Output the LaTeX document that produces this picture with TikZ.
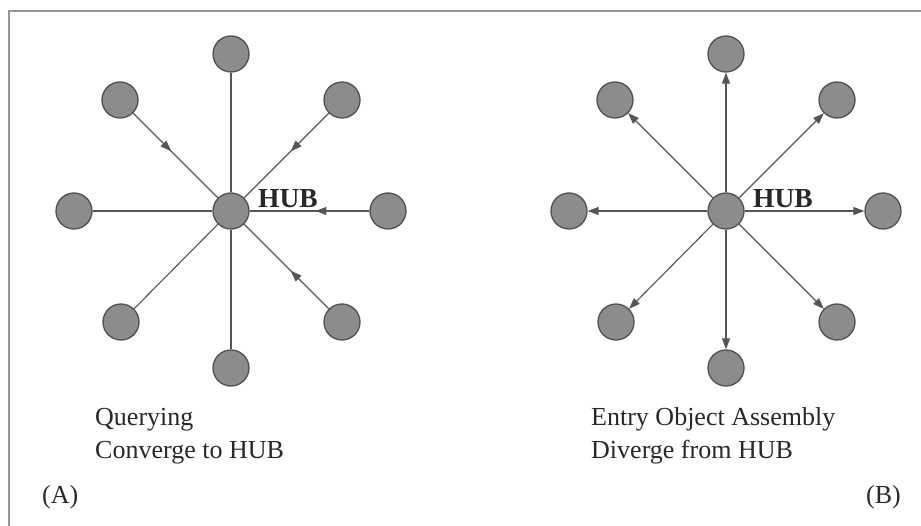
\documentclass[tikz,border=0pt]{standalone}
\usepackage{fontspec}
\setmainfont{Liberation Serif}
\usetikzlibrary{arrows.meta,decorations.markings}
\definecolor{leaffill}{RGB}{140,140,140}
\definecolor{leafdraw}{RGB}{80,80,80}
\definecolor{edgecol}{RGB}{85,85,85}
\definecolor{framecol}{RGB}{150,150,150}
\definecolor{textcol}{RGB}{40,40,40}
\tikzset{
  leaf/.style={circle,fill=leaffill,draw=leafdraw,line width=1.3pt,minimum size=36pt,inner sep=0pt},
  link/.style={draw=edgecol,line width=1.1pt},
  inarrow/.style={link,decoration={markings,mark=at position 0.45 with {\arrow[edgecol]{Triangle[length=11pt,width=8pt]}}},postaction={decorate}},
  outarrow/.style={link,-{Triangle[length=11pt,width=8pt]}},
  caption/.style={inner sep=0pt,text=textcol,font=\fontsize{26}{33}\selectfont},
  hublabel/.style={inner sep=0pt,text=textcol,font=\fontsize{27.5}{33}\selectfont\bfseries},
}
\begin{document}
\begin{tikzpicture}[x=1pt,y=-1pt]
\useasboundingbox (0,0) rectangle (921,526);
\draw[framecol,line width=2pt] (9,526) -- (9,11) -- (921,11);

% ---------- (A) ----------
\node[leaf] (ah) at (231,211) {};
\node[leaf] (an) at (231,54) {};
\node[leaf] (as) at (231,368) {};
\node[leaf] (aw) at (74,211) {};
\node[leaf] (ae) at (388,211) {};
\node[leaf] (anw) at (120,100) {};
\node[leaf] (ane) at (342,100) {};
\node[leaf] (asw) at (121,322) {};
\node[leaf] (ase) at (342,322) {};
\draw[link] (an) -- (ah);
\draw[link] (as) -- (ah);
\draw[link] (aw) -- (ah);
\draw[link] (asw) -- (ah);
\draw[inarrow] (anw) -- (ah);
\draw[inarrow] (ane) -- (ah);
\draw[inarrow] (ae) -- (ah);
\draw[inarrow] (ase) -- (ah);
\node[hublabel,anchor=base west] (ahub) at (258,208) {HUB};
\node[caption,anchor=base west] (aq1) at (95,425) {Querying};
\node[caption,anchor=base west] (aq2) at (95,458) {Converge to HUB};
\node[caption,anchor=base west] (alab) at (42,503) {(A)};

% ---------- (B) ----------
\node[leaf] (bh) at (726,211) {};
\node[leaf] (bn) at (726,54) {};
\node[leaf] (bs) at (726,368) {};
\node[leaf] (bw) at (569,211) {};
\node[leaf] (be) at (883,211) {};
\node[leaf] (bnw) at (615,100) {};
\node[leaf] (bne) at (837,100) {};
\node[leaf] (bsw) at (616,322) {};
\node[leaf] (bse) at (837,322) {};
\foreach \t in {bn,bs,bw,be,bnw,bne,bsw,bse}{\draw[outarrow] (bh) -- (\t);}
\node[hublabel,anchor=base west] (bhub) at (753,208) {HUB};
\node[caption,anchor=base west] (bq1) at (591,425) {Entry Object Assembly};
\node[caption,anchor=base west] (bq2) at (591,458) {Diverge from HUB};
\node[caption,anchor=base east] (blab) at (901,503) {(B)};
\end{tikzpicture}
\end{document}
